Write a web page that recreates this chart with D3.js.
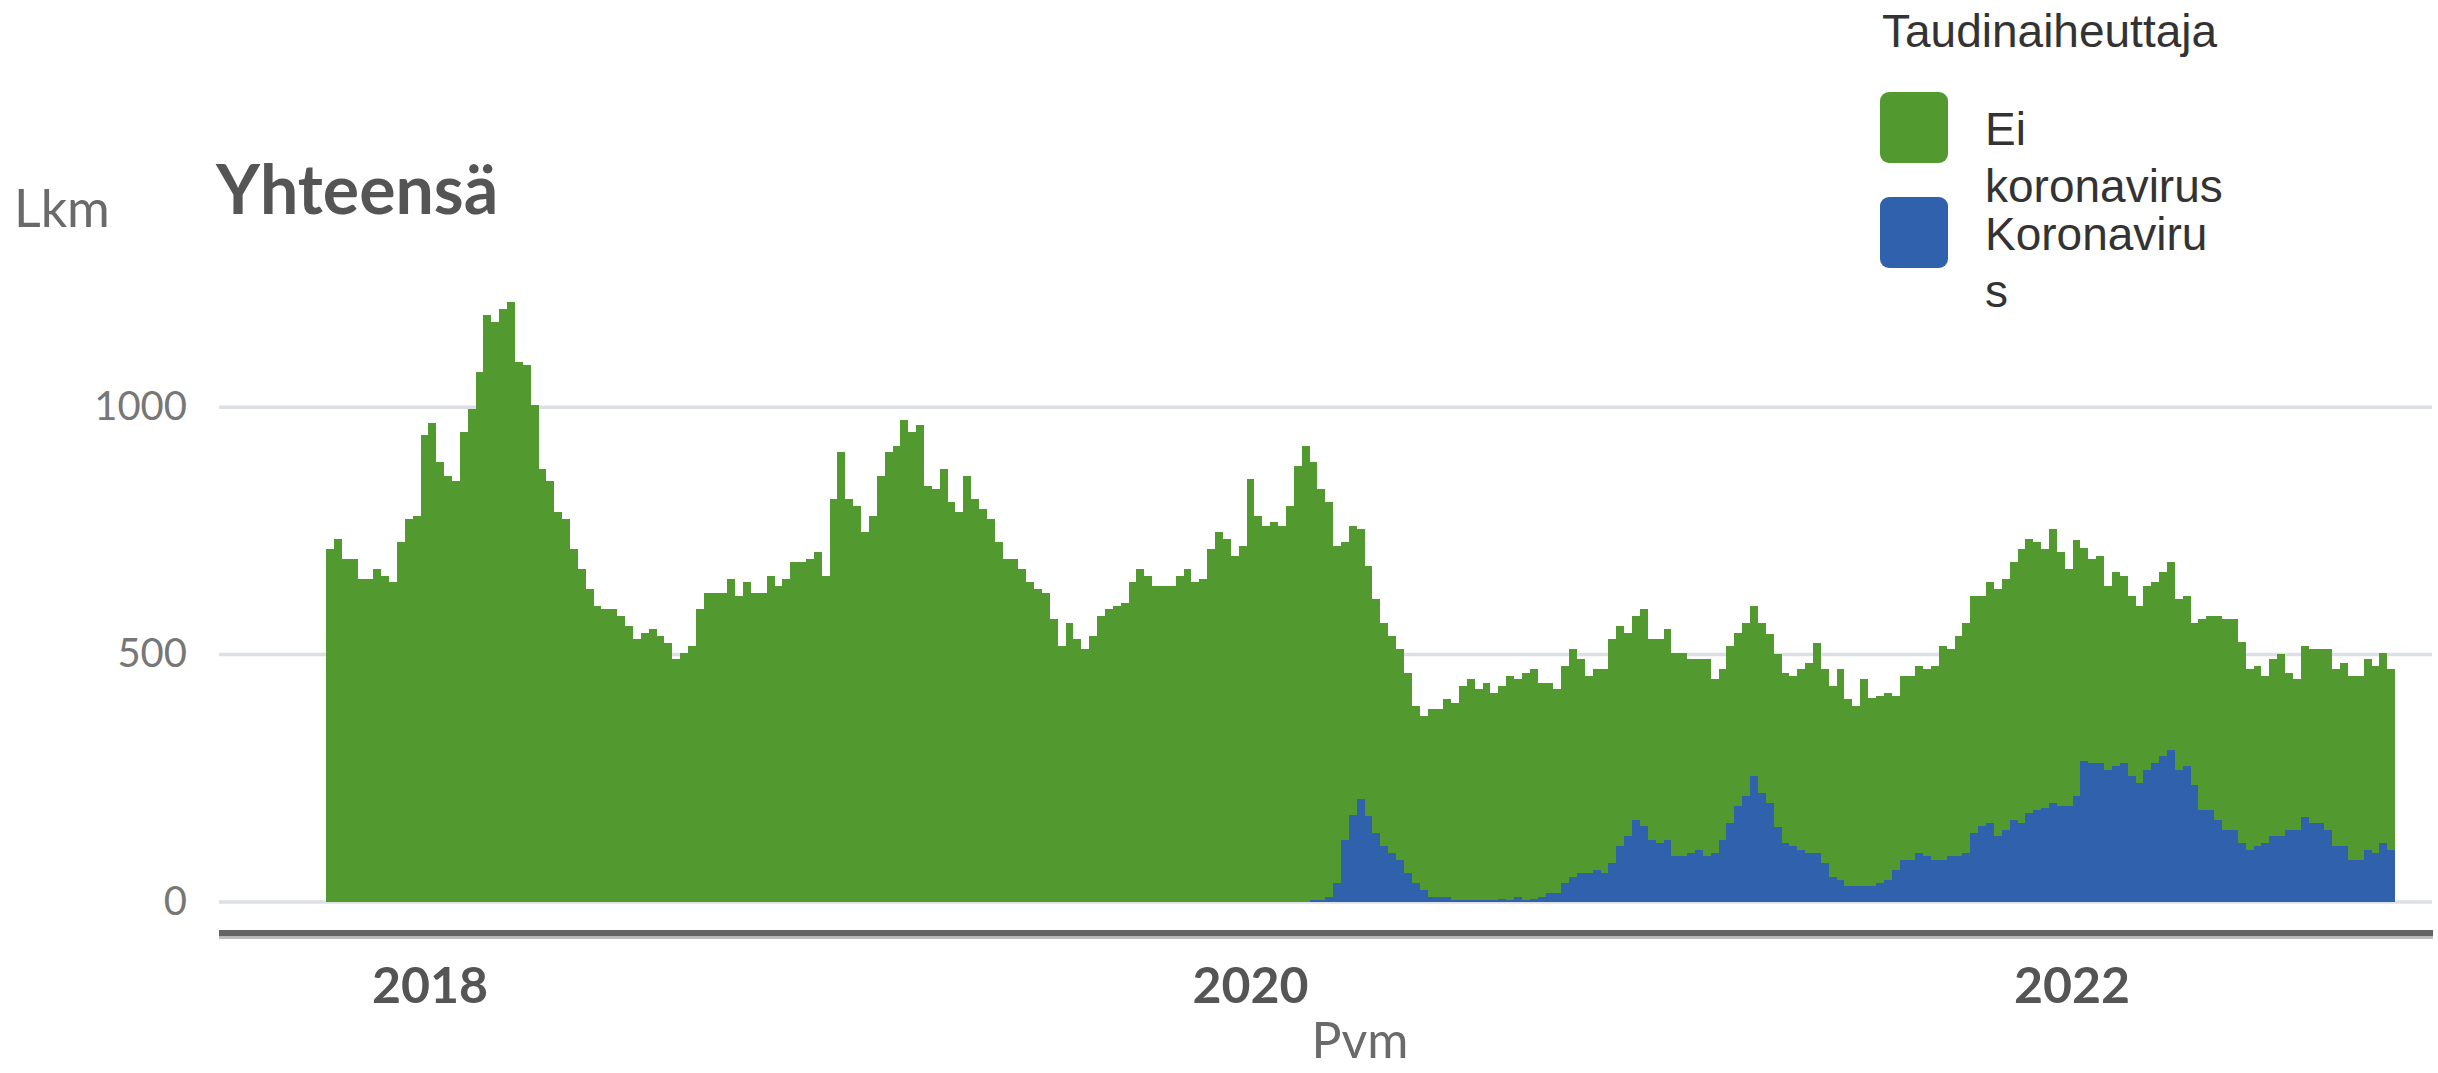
<!DOCTYPE html>
<html><head><meta charset="utf-8">
<script src="https://cdn.jsdelivr.net/npm/d3@7"></script>
<style>html,body{margin:0;padding:0;background:#fff;} svg{display:block}</style>
</head><body><svg id="c" width="2438" height="1073"></svg>
<script>
// ---------- data ----------
const chartTitle = "Yhteensä";
const yTitle = "Lkm";
const xTitle = "Pvm";
const legendTitle = "Taudinaiheuttaja";
const seriesKeys = ["covid", "nonCovid"];
const seriesLabels = { nonCovid: ["Ei", "koronavirus"], covid: ["Koronaviru", "s"] };
const seriesColors = { nonCovid: "#529a2f", covid: "#2f61ac" };
const legendOrder = ["nonCovid", "covid"];
const yTicks = [0, 500, 1000];
const yearTicks = [2018, 2020, 2022];

// weekly categories (week starts)
const firstWeek = new Date(2017, 9, 1);
const endOfLastWeek = new Date(2022, 9, 16);
const covidFirstWeek = new Date(2020, 1, 23);

// "Ei koronavirus" weekly counts
const nonCovid = [
713,732,692,692,652,652,672,658,645,726,774,779,942,968,888,860,849,949,995,1070,
1185,1171,1197,1211,1091,1085,1003,874,849,787,774,713,672,632,597,591,591,577,557,531,
542,551,537,522,491,503,516,591,623,623,623,651,617,645,623,623,658,638,651,686,
686,692,707,658,813,908,813,800,747,779,860,908,921,974,949,963,839,833,874,807,
787,860,813,793,774,726,692,692,672,645,632,623,571,516,563,531,510,537,577,591,
597,603,645,672,658,638,638,638,658,672,645,651,713,747,732,698,719,854,779,758,
767,758,799,880,920,
885,830,798,682,602,583,544,505,472,451,
439,426,404,358,351,380,380,400,398,432,
447,426,439,419,430,453,441,459,465,433,
425,412,439,461,432,398,406,412,453,445,
409,413,439,407,413,427,410,410,392,385,
398,352,346,357,349,350,344,344,341,350,
344,344,365,384,424,392,386,427,378,364,
419,381,378,379,351,372,372,378,378,392,
432,418,445,465,478,465,486,499,506,522,
554,553,541,525,553,514,479,517,432,412,
418,372,392,378,364,357,372,365,372,380,
345,343,328,386,392,413,426,426,407,365,
364,338,357,367,317,305,346,351,351,365,
358,370,372,372,385,378,384,365
];
// "Koronavirus" weekly counts, from covidFirstWeek on
const covid = [
3,3,9,37,124,175,208,173,139,112,
98,84,58,37,24,9,9,9,3,3,
3,3,3,3,5,3,9,3,5,9,
17,17,37,49,58,58,64,58,78,112,
133,164,152,124,118,124,92,92,98,105,
92,98,124,159,193,213,253,219,199,150,
118,112,105,98,98,78,49,43,31,31,
31,31,37,43,64,84,84,98,92,84,
84,92,92,98,139,152,159,133,145,164,
159,179,185,188,199,193,193,213,283,280,
280,266,274,280,253,240,266,280,294,306,
266,274,235,185,185,164,145,145,118,105,
112,118,133,133,145,145,170,159,159,145,
112,112,84,84,105,98,118,105
];

// ---------- build ----------
const svg = d3.select("#c");
svg.append("rect").attr("width", 2438).attr("height", 1073).attr("fill", "#fff");

const weeks = d3.timeWeek.range(firstWeek, endOfLastWeek);
const rows = weeks.map((d, i) => {
  const ci = d3.timeWeek.count(covidFirstWeek, d);
  return { date: d, nonCovid: nonCovid[i], covid: d >= covidFirstWeek ? covid[ci] : 0 };
});
const last = rows[rows.length - 1];
const stepRows = rows.concat([{ date: endOfLastWeek, nonCovid: last.nonCovid, covid: last.covid }]);

const x = d3.scaleTime().domain([new Date(2018, 0, 1), new Date(2022, 0, 1)]).range([429.5, 2071.5]);
const y = d3.scaleLinear().domain([0, 1000]).range([901.5, 406.7]);

const plotLeft = 219, plotRight = 2432;

// grid + y labels
const yAxis = d3.axisLeft(y).tickValues(yTicks).tickFormat(d3.format("d"))
  .tickSize(-(plotRight - plotLeft)).tickPadding(32);
const gy = svg.append("g").attr("transform", `translate(${plotLeft},0)`).call(yAxis);
gy.select(".domain").remove();
gy.selectAll(".tick line").attr("stroke", "#dcdfe3").attr("stroke-width", 3.5);
gy.selectAll(".tick text").attr("font-family", "Lato, 'Open Sans', sans-serif").attr("font-size", 40)
  .attr("fill", "#777");

// stacked step areas
const stack = d3.stack().keys(seriesKeys);
const layers = stack(stepRows);
const area = d3.area()
  .x(d => x(d.data.date))
  .y0(d => y(d[0]))
  .y1(d => y(d[1]))
  .curve(d3.curveStepAfter);
svg.append("g").selectAll("path").data(layers).join("path")
  .attr("d", area)
  .attr("fill", d => seriesColors[d.key])
  .attr("shape-rendering", "crispEdges");

// x axis bar
svg.append("rect").attr("x", plotLeft).attr("y", 930).attr("width", plotRight - plotLeft + 1).attr("height", 6.5).attr("fill", "#646464");
svg.append("rect").attr("x", plotLeft).attr("y", 936.5).attr("width", plotRight - plotLeft + 1).attr("height", 2.5).attr("fill", "#bdbdbd");

const xAxis = d3.axisBottom(x).tickValues(yearTicks.map(yr => new Date(yr, 0, 1)))
  .tickSize(0).tickPadding(34).tickFormat(d3.timeFormat("%Y"));
const gx = svg.append("g").attr("transform", "translate(0,933)").call(xAxis);
gx.select(".domain").remove();
gx.selectAll(".tick text").attr("font-family", "Lato, 'Open Sans', sans-serif").attr("font-size", 50)
  .attr("font-weight", "bold").attr("fill", "#555");

// titles
svg.append("text").attr("x", 216).attr("y", 214).text(chartTitle)
  .attr("font-family", "Lato, 'Open Sans', sans-serif").attr("font-size", 68).attr("font-weight", "bold").attr("fill", "#555");
svg.append("text").attr("x", 14).attr("y", 227).text(yTitle)
  .attr("font-family", "Lato, 'Open Sans', sans-serif").attr("font-size", 52).attr("fill", "#6a6a6a");
svg.append("text").attr("x", 1360).attr("y", 1058).attr("text-anchor", "middle").text(xTitle)
  .attr("font-family", "Lato, 'Open Sans', sans-serif").attr("font-size", 50).attr("fill", "#6a6a6a");

// legend
const lg = svg.append("g").attr("font-family", "'Liberation Sans', Arial, sans-serif").attr("fill", "#333");
lg.append("text").attr("x", 1882).attr("y", 47).attr("font-size", 46).text(legendTitle);
const entryY = [92, 197];
legendOrder.forEach((k, i) => {
  lg.append("rect").attr("x", 1880).attr("y", entryY[i]).attr("width", 68).attr("height", 71)
    .attr("rx", 9).attr("fill", seriesColors[k]);
  const t = lg.append("text").attr("font-size", 46);
  seriesLabels[k].forEach((line, j) => {
    t.append("tspan").attr("x", 1985).attr("y", entryY[i] + 53 + j * 57).text(line);
  });
});
</script>
</body></html>
